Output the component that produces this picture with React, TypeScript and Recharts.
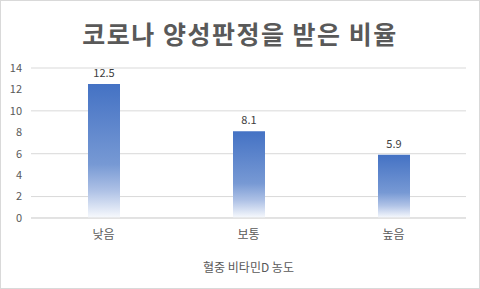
import { BarChart, Bar, XAxis, YAxis, CartesianGrid, LabelList } from 'recharts'

const categories = ['낮음', '보통', '높음']
const rates = [12.5, 8.1, 5.9]
const yTicks = [0, 2, 4, 6, 8, 10, 12, 14]

const title = '코로나 양성판정을 받은 비율'
const xTitle = '혈중 비타민D 농도'

const data = categories.map((name, i) => ({ name, value: rates[i] }))

const FONT = '"Noto Sans CJK KR", "Noto Sans", sans-serif'
const TEXT = '#595959'

export default function App() {
  return (
    <div
      style={{
        position: 'relative',
        width: 480,
        height: 289,
        background: '#fff',
        fontFamily: FONT,
      }}
    >
      <style>{'body { margin: 0; }'}</style>
      <div
        style={{
          position: 'absolute',
          inset: 0,
          border: '1px solid #d9d9d9',
          boxSizing: 'border-box',
          pointerEvents: 'none',
        }}
      />
      <div
        style={{
          position: 'absolute',
          top: 15,
          left: 0,
          width: 480,
          textAlign: 'center',
          fontSize: 25,
          fontWeight: 700,
          letterSpacing: 1.5,
          lineHeight: '36px',
          color: TEXT,
        }}
      >
        {title}
      </div>
      <BarChart
        width={480}
        height={289}
        data={data}
        margin={{ top: 68, right: 14, left: 0, bottom: 0 }}
      >
        <defs>
          <linearGradient id="barFade" x1="0" y1="0" x2="0" y2="1">
            <stop offset="0%" stopColor="#4472C4" />
            <stop offset="60%" stopColor="#7799D4" />
            <stop offset="80%" stopColor="#AFC2E6" />
            <stop offset="100%" stopColor="#F8FAFD" />
          </linearGradient>
        </defs>
        <CartesianGrid vertical={false} stroke="#d9d9d9" />
        <XAxis
          dataKey="name"
          height={71}
          axisLine={{ stroke: '#d9d9d9' }}
          tickLine={false}
          tickSize={0}
          tickMargin={12}
          tick={{ fill: TEXT, fontSize: 12, fontFamily: FONT }}
          label={{
            value: xTitle,
            position: 'insideBottom',
            offset: 17,
            fill: TEXT,
            fontSize: 12,
            fontFamily: FONT,
          }}
        />
        <YAxis
          width={31}
          domain={[0, 14]}
          ticks={yTicks}
          axisLine={false}
          tickLine={false}
          tickSize={0}
          tickMargin={9}
          tick={{ fill: TEXT, fontSize: 11, fontFamily: FONT }}
        />
        <Bar dataKey="value" fill="url(#barFade)" barSize={32} isAnimationActive={false}>
          <LabelList
            dataKey="value"
            position="top"
            offset={7}
            fill="#404040"
            fontSize={11}
            fontFamily={FONT}
          />
        </Bar>
      </BarChart>
    </div>
  )
}
